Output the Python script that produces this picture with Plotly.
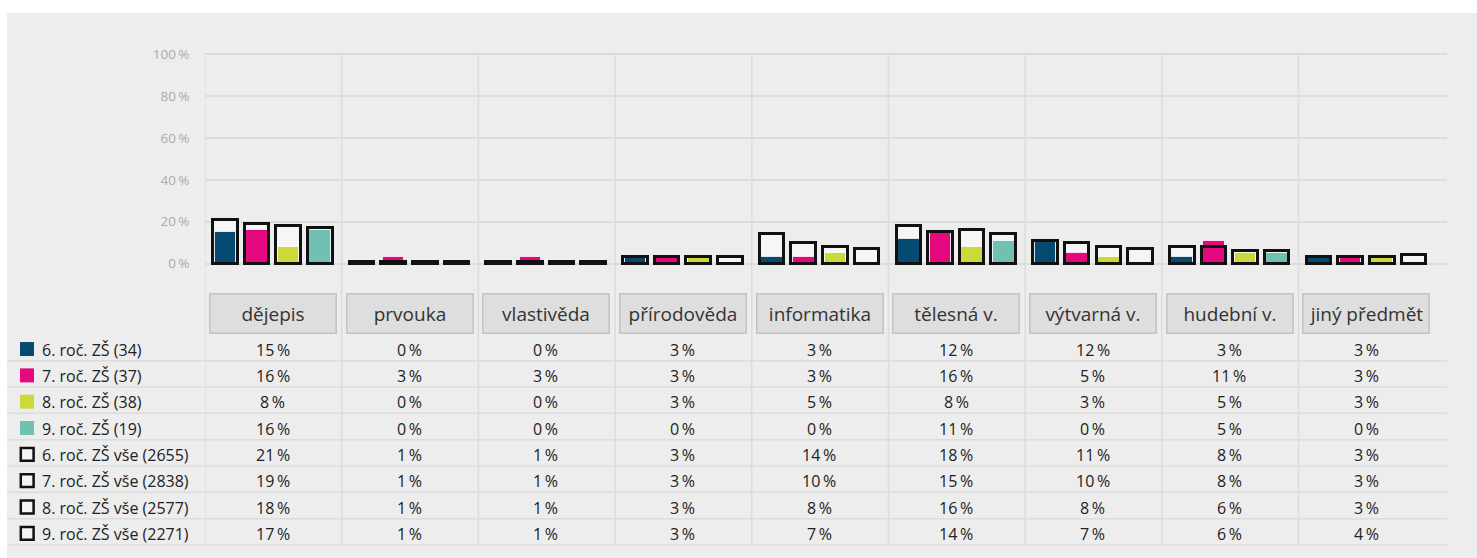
import plotly.graph_objects as go

# ---- data -------------------------------------------------------------
categories = ["dějepis", "prvouka", "vlastivěda", "přírodověda", "informatika",
              "tělesná v.", "výtvarná v.", "hudební v.", "jiný předmět"]

series_labels = ["6. roč. ZŠ (34)", "7. roč. ZŠ (37)", "8. roč. ZŠ (38)", "9. roč. ZŠ (19)",
                 "6. roč. ZŠ vše (2655)", "7. roč. ZŠ vše (2838)",
                 "8. roč. ZŠ vše (2577)", "9. roč. ZŠ vše (2271)"]

grade6 = [15, 0, 0, 3, 3, 12, 12, 3, 3]
grade7 = [16, 3, 3, 3, 3, 16, 5, 11, 3]
grade8 = [8, 0, 0, 3, 5, 8, 3, 5, 3]
grade9 = [16, 0, 0, 0, 0, 11, 0, 5, 0]

all6 = [21, 1, 1, 3, 14, 18, 11, 8, 3]
all7 = [19, 1, 1, 3, 10, 15, 10, 8, 3]
all8 = [18, 1, 1, 3, 8, 16, 8, 6, 3]
all9 = [17, 1, 1, 3, 7, 14, 7, 6, 4]

y_ticks = [0, 20, 40, 60, 80, 100]

grades = [grade6, grade7, grade8, grade9]
totals = [all6, all7, all8, all9]
colors = ["#064a72", "#e4097f", "#cdd83a", "#71c1b2"]

# ---- geometry (pixels) ---------------------------------------------------
W, H = 1477, 558
PLOT_L, PLOT_R = 205, 1447
PLOT_T, PLOT_B = 52, 275
Y0_PX, Y100_PX = 263.7, 54.0
CAT_W = 136.7

px_per_unit = (Y0_PX - Y100_PX) / 100.0
y_top = 100 + (Y100_PX - PLOT_T) / px_per_unit
y_bot = -(PLOT_B - Y0_PX) / px_per_unit
x_min = -0.5
x_max = x_min + (PLOT_R - PLOT_L) / CAT_W


def xp(px):
    return (px - PLOT_L) / (PLOT_R - PLOT_L)


def yp(py):
    return (PLOT_B - py) / (PLOT_B - PLOT_T)


PCT = "\u2009%"
FONT = "Open Sans, Noto Sans, DejaVu Sans, sans-serif"

idx = list(range(len(categories)))
group_off = [-0.351, -0.120, 0.112, 0.343]
OUT_W = 0.18
COL_W = 0.158

fig = go.Figure()

# light fill of the "vše" bars
for k in range(4):
    fig.add_trace(go.Bar(
        x=idx, y=totals[k], width=OUT_W, offset=group_off[k] - OUT_W / 2,
        marker=dict(color="#f6f6f6", line=dict(width=0)),
        hoverinfo="skip", showlegend=False))

# coloured grade bars
for k in range(4):
    fig.add_trace(go.Bar(
        x=idx, y=grades[k], width=COL_W, offset=group_off[k] - COL_W / 2,
        marker=dict(color=colors[k], line=dict(color="rgba(255,255,255,0.75)", width=1)),
        name=series_labels[k], showlegend=False))

# black outline of the "vše" bars
for k in range(4):
    fig.add_trace(go.Bar(
        x=idx, y=totals[k], width=OUT_W, offset=group_off[k] - OUT_W / 2,
        marker=dict(color="rgba(0,0,0,0)", line=dict(color="#111111", width=3)),
        name=series_labels[k + 4], showlegend=False))

shapes = []
annotations = []

# grey panel
shapes.append(dict(type="rect", xref="paper", yref="paper", layer="below",
                   x0=xp(7), x1=xp(W + 5), y0=yp(H + 5), y1=yp(13),
                   fillcolor="#ededed", line=dict(width=0)))

# column separators from the plot down through the table
TABLE_BOTTOM = 545.0
for i in range(len(categories) - 1):
    shapes.append(dict(type="line", xref="x", yref="paper", layer="below",
                       x0=i + 0.5, x1=i + 0.5, y0=yp(TABLE_BOTTOM), y1=yp(Y100_PX),
                       line=dict(color="#dcdcdc", width=1.5)))
shapes.append(dict(type="line", xref="x", yref="paper", layer="below",
                   x0=-0.5, x1=-0.5, y0=yp(TABLE_BOTTOM), y1=yp(Y100_PX),
                   line=dict(color="#dcdcdc", width=1.5)))

# table rows
ROW_H = 26.33
ROW0_BOTTOM = 360.7
for r in range(len(series_labels)):
    yb = ROW0_BOTTOM + r * ROW_H
    shapes.append(dict(type="line", xref="paper", yref="paper", layer="below",
                       x0=xp(7), x1=xp(PLOT_R), y0=yp(yb), y1=yp(yb),
                       line=dict(color="#dcdcdc", width=1.5)))

# category label boxes
for i, name in enumerate(categories):
    annotations.append(dict(
        x=i - 0.004, xref="x", y=yp(313.3), yref="paper", text=name, showarrow=False,
        xanchor="center", yanchor="middle", width=125, height=38,
        bgcolor="#dedede", bordercolor="#c3c3c3", borderwidth=1.5, borderpad=0,
        font=dict(family=FONT, size=19, color="#333333")))

# table body
row_values = grades + totals
for r, label in enumerate(series_labels):
    yc = ROW0_BOTTOM + (r - 0.5) * ROW_H + 2
    # swatch
    if r < 4:
        shapes.append(dict(type="rect", xref="paper", yref="paper",
                           x0=xp(20), x1=xp(34), y0=yp(yc + 6.5), y1=yp(yc - 7.5),
                           fillcolor=colors[r], line=dict(width=0)))
    else:
        shapes.append(dict(type="rect", xref="paper", yref="paper",
                           x0=xp(20.8), x1=xp(33.6), y0=yp(yc + 5.9), y1=yp(yc - 6.9),
                           fillcolor="#f4f4f4", line=dict(color="#111111", width=2.5)))
    annotations.append(dict(
        x=xp(40), xref="paper", y=yp(yc), yref="paper", text=label, showarrow=False,
        xanchor="left", yanchor="middle",
        font=dict(family=FONT, size=16, color="#222222")))
    for i, v in enumerate(row_values[r]):
        annotations.append(dict(
            x=i - 0.006, xref="x", y=yp(yc), yref="paper", text=f"{v}{PCT}",
            showarrow=False, xanchor="center", yanchor="middle",
            font=dict(family=FONT, size=16, color="#222222")))

fig.update_layout(
    width=W, height=H,
    margin=dict(l=PLOT_L, r=W - PLOT_R, t=PLOT_T, b=H - PLOT_B, pad=0),
    paper_bgcolor="#ffffff", plot_bgcolor="rgba(0,0,0,0)",
    barmode="overlay", bargap=0, showlegend=False,
    font=dict(family=FONT),
    xaxis=dict(range=[x_min, x_max], showgrid=False, zeroline=False,
               showticklabels=False, ticks="", showline=False, fixedrange=True),
    yaxis=dict(range=[y_bot, y_top], tickvals=y_ticks,
               ticktext=[f"{v}{PCT}" for v in y_ticks],
               showgrid=True, gridcolor="#dcdcdc", gridwidth=1.5,
               zeroline=False, showline=False,
               ticks="outside", ticklen=12, tickcolor="rgba(0,0,0,0)",
               tickfont=dict(family=FONT, size=13.5, color="#ababab"),
               fixedrange=True),
    shapes=shapes, annotations=annotations,
)

fig.write_html("out.html")
